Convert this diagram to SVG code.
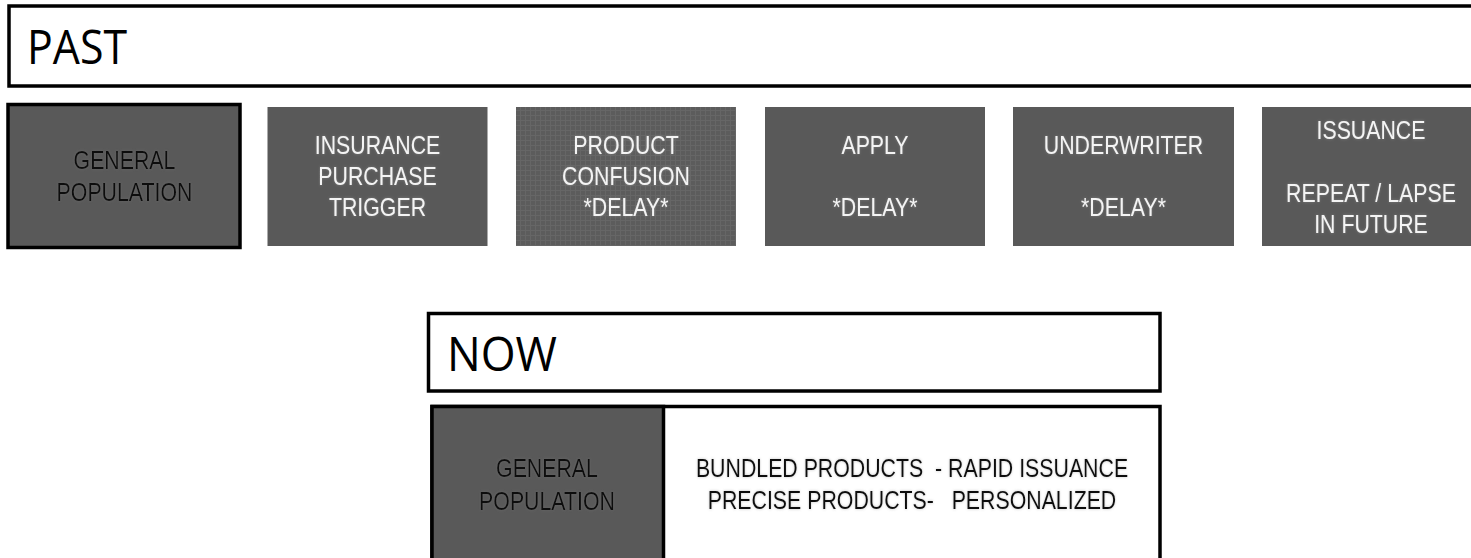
<svg xmlns="http://www.w3.org/2000/svg" width="1471" height="558" viewBox="0 0 1471 558">
  <style>
    .frame { fill: #ffffff; stroke: #000000; stroke-width: 3.5; }
    .step { fill: #595959; }
    .heading { font-family: "Open Sans", "Noto Sans", sans-serif; font-size: 48px; fill: #000000; }
    .label { font-family: "Liberation Sans", Arial, sans-serif; font-size: 26px; text-anchor: middle; white-space: pre; }
    .light { fill: #f4f4f4; filter: url(#haloDark); }
    .dark { fill: #111111; filter: url(#haloLight); }
  </style>
  <defs>
    <!-- soft halo around label text -->
    <filter id="haloDark" x="-10%" y="-30%" width="120%" height="160%">
      <feGaussianBlur in="SourceAlpha" stdDeviation="1.6" result="b"/>
      <feFlood flood-color="#9a9a9a" flood-opacity="0.55"/>
      <feComposite in2="b" operator="in" result="g"/>
      <feMerge><feMergeNode in="g"/><feMergeNode in="SourceGraphic"/></feMerge>
    </filter>
    <filter id="haloLight" x="-10%" y="-30%" width="120%" height="160%">
      <feGaussianBlur in="SourceAlpha" stdDeviation="1.6" result="b"/>
      <feFlood flood-color="#7a7a7a" flood-opacity="0.45"/>
      <feComposite in2="b" operator="in" result="g"/>
      <feMerge><feMergeNode in="g"/><feMergeNode in="SourceGraphic"/></feMerge>
    </filter>
    <!-- faint woven texture for the product step -->
    <pattern id="weave" width="5" height="5" patternUnits="userSpaceOnUse">
      <rect width="5" height="5" fill="#5c5c5c"/>
      <path d="M0 0.5H5M0.5 0V5" stroke="#666666" stroke-width="1"/>
    </pattern>
  </defs>

  <!-- PAST section -->
  <g id="past-header">
    <rect class="frame" x="9" y="6" width="1480" height="80"/>
    <text class="heading" x="27" y="64" textLength="100" lengthAdjust="spacingAndGlyphs">PAST</text>
  </g>

  <!-- labels use a narrow face: each line is centred at x=0, then squeezed horizontally -->
  <g id="past-general-population">
    <rect class="step" x="8" y="104.5" width="232" height="143" stroke="#000" stroke-width="3.5"/>
    <g transform="translate(124.5 0) scale(0.82 1)">
      <text class="label dark" x="0" y="169.5">GENERAL</text>
      <text class="label dark" x="0" y="201.5">POPULATION</text>
    </g>
  </g>

  <g id="purchase-trigger">
    <rect class="step" x="267.5" y="107" width="220" height="139"/>
    <g transform="translate(377.5 0) scale(0.82 1)">
      <text class="label light" x="0" y="154.5">INSURANCE</text>
      <text class="label light" x="0" y="185.5">PURCHASE</text>
      <text class="label light" x="0" y="216.5">TRIGGER</text>
    </g>
  </g>

  <g id="product-confusion">
    <rect x="516" y="107" width="220" height="139" fill="url(#weave)"/>
    <g transform="translate(626 0) scale(0.82 1)">
      <text class="label light" x="0" y="154.5">PRODUCT</text>
      <text class="label light" x="0" y="185.5">CONFUSION</text>
      <text class="label light" x="0" y="216.5">*DELAY*</text>
    </g>
  </g>

  <g id="apply">
    <rect class="step" x="765" y="107" width="220" height="139"/>
    <g transform="translate(875 0) scale(0.82 1)">
      <text class="label light" x="0" y="154.5">APPLY</text>
      <text class="label light" x="0" y="216.5">*DELAY*</text>
    </g>
  </g>

  <g id="underwriter">
    <rect class="step" x="1013" y="107" width="221" height="139"/>
    <g transform="translate(1123.5 0) scale(0.82 1)">
      <text class="label light" x="0" y="154.5">UNDERWRITER</text>
      <text class="label light" x="0" y="216.5">*DELAY*</text>
    </g>
  </g>

  <g id="issuance">
    <rect class="step" x="1262" y="107" width="220" height="139"/>
    <g transform="translate(1371 0) scale(0.82 1)">
      <text class="label light" x="0" y="139">ISSUANCE</text>
      <text class="label light" x="0" y="202">REPEAT / LAPSE</text>
      <text class="label light" x="0" y="233">IN FUTURE</text>
    </g>
  </g>

  <!-- NOW section -->
  <g id="now-header">
    <rect class="frame" x="428.5" y="313.5" width="731.5" height="77.5"/>
    <text class="heading" x="447" y="371" textLength="110" lengthAdjust="spacingAndGlyphs">NOW</text>
  </g>

  <g id="now-panel">
    <rect class="frame" x="432" y="406.5" width="728" height="170"/>
    <rect class="step" x="432" y="406.5" width="231.5" height="170" stroke="#000" stroke-width="3.5"/>
  </g>

  <g id="now-general-population">
    <g transform="translate(547 0) scale(0.82 1)">
      <text class="label dark" x="0" y="477">GENERAL</text>
      <text class="label dark" x="0" y="510">POPULATION</text>
    </g>
  </g>

  <g id="now-offering">
    <g transform="translate(912 0) scale(0.82 1)">
      <text class="label dark" x="0" y="477">BUNDLED PRODUCTS  - RAPID ISSUANCE</text>
      <text class="label dark" x="0" y="509">PRECISE PRODUCTS-   PERSONALIZED</text>
    </g>
  </g>

  <g id="connectors"/>
</svg>
